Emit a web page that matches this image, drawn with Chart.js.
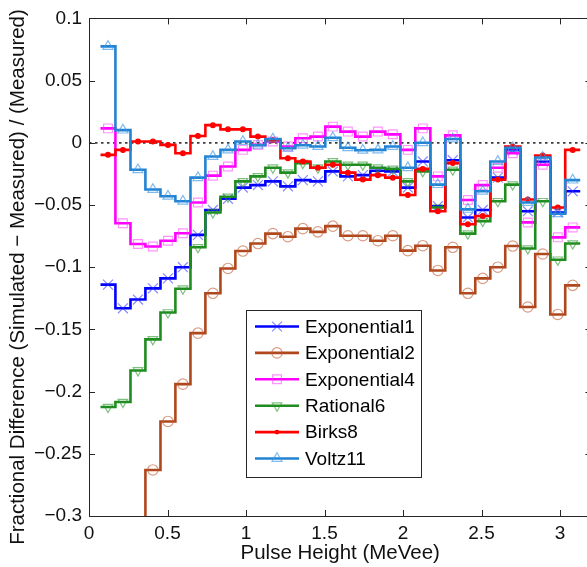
<!DOCTYPE html>
<html>
<head>
<meta charset="utf-8">
<script src="https://cdn.jsdelivr.net/npm/chart.js@4.4.1/dist/chart.umd.min.js"></script>
<style>
html,body{margin:0;padding:0;overflow:hidden;background:#fff;}
#wrap{width:600px;height:567px;}
</style>
</head>
<body>
<div id="wrap"><canvas id="c" width="600" height="567"></canvas></div>
<script>
// ---------- data ----------
const pulseHeight = [0.121,0.216,0.312,0.407,0.503,0.598,0.694,0.789,0.885,0.980,
  1.076,1.171,1.267,1.362,1.458,1.553,1.649,1.744,1.840,1.935,
  2.031,2.126,2.222,2.317,2.413,2.508,2.604,2.699,2.795,2.890,2.986,3.081];
const binWidth = 0.0955;

const exponential1 = [-0.114,-0.133,-0.126,-0.117,-0.109,-0.100,-0.074,-0.054,-0.045,-0.036,
  -0.034,-0.031,-0.035,-0.030,-0.031,-0.023,-0.027,-0.026,-0.0225,-0.023,
  -0.036,-0.015,-0.051,-0.014,-0.060,-0.054,-0.028,-0.006,-0.055,-0.015,-0.056,-0.039];
const exponential2 = [-0.36,-0.34,-0.32,-0.263,-0.224,-0.194,-0.153,-0.121,-0.101,-0.087,
  -0.081,-0.073,-0.0755,-0.069,-0.0716,-0.067,-0.0747,-0.0747,-0.0787,-0.0747,
  -0.0867,-0.0827,-0.1026,-0.084,-0.121,-0.109,-0.100,-0.083,-0.132,-0.0894,-0.138,-0.1146];
const exponential4 = [0.0116,-0.0647,-0.0814,-0.0833,-0.0787,-0.0727,-0.048,-0.0264,-0.019,-0.0057,
  -0.0017,0.001,-0.003,0.0036,0.005,0.013,0.009,0.005,0.009,0.0068,
  -0.0057,0.0116,-0.027,0.006,-0.046,-0.034,-0.020,-0.0084,-0.064,-0.0177,-0.076,-0.068];
const rational6 = [-0.2124,-0.2084,-0.183,-0.158,-0.1364,-0.1173,-0.084,-0.056,-0.0434,-0.031,
  -0.027,-0.020,-0.024,-0.0163,-0.020,-0.015,-0.0177,-0.0177,-0.020,-0.021,
  -0.031,-0.023,-0.052,-0.0217,-0.073,-0.063,-0.047,-0.0336,-0.085,-0.047,-0.094,-0.081];
const birks8 = [-0.0097,-0.0057,0.001,0.001,-0.0017,-0.0084,0.0055,0.0142,0.0108,0.0108,
  0.005,0.002,-0.0124,-0.015,-0.020,-0.0177,-0.024,-0.0296,-0.026,-0.028,
  -0.042,-0.021,-0.055,-0.0163,-0.0655,-0.0588,-0.0296,-0.003,-0.0456,-0.0102,-0.052,-0.0057];
const voltz11 = [0.0775,0.0102,-0.0217,-0.0376,-0.043,-0.047,-0.028,-0.011,-0.0057,0.001,
  -0.002,0.003,-0.0044,-0.002,-0.003,0.004,-0.004,-0.006,-0.0057,-0.003,
  -0.020,0.000,-0.0336,0.003,-0.0535,-0.039,-0.015,-0.004,-0.048,-0.0118,-0.057,-0.030];

const seriesNames = ['Exponential1','Exponential2','Exponential4','Rational6','Birks8','Voltz11'];
const seriesValues = [exponential1, exponential2, exponential4, rational6, birks8, voltz11];

const xTicks = [0,0.5,1,1.5,2,2.5,3];
const xTickLabels = ['0','0.5','1','1.5','2','2.5','3'];
const yTicks = [-0.3,-0.25,-0.2,-0.15,-0.1,-0.05,0,0.05,0.1];
const yTickLabels = ['\u22120.3','\u22120.25','\u22120.2','\u22120.15','\u22120.1','\u22120.05','0','0.05','0.1'];
const xTitle = 'Pulse Height (MeVee)';
const yTitle = 'Fractional Difference (Simulated \u2212 Measured) / (Measured)';

// ---------- styles ----------
const styles = [
  {line:'#0000ff', mark:'rgba(40,40,255,0.55)', shape:'crossRot', r:7, fill:false},
  {line:'#b0471c', mark:'rgba(190,90,50,0.6)', shape:'circle', r:5.2, fill:false},
  {line:'#ff00ff', mark:'rgba(255,60,255,0.55)', shape:'rect', r:6.2, fill:false},
  {line:'#1f8c1f', mark:'rgba(40,150,40,0.6)', shape:'triDown', r:5.5, fill:false},
  {line:'#ff0000', mark:'#ff0000', shape:'circle', r:2.4, fill:true},
  {line:'#2383d3', mark:'rgba(60,150,230,0.65)', shape:'triangle', r:5.8, fill:false}
];
const FONT = "'Liberation Sans', Arial, Helvetica, sans-serif";

function edgesOf(centers, w){
  const e = centers.map(c => c - w/2);
  e.push(centers[centers.length-1] + w/2);
  return e;
}
const edges = edgesOf(pulseHeight, binWidth);

let datasets = [];
seriesValues.forEach((vals, s) => {
  const st = styles[s];
  const stepData = edges.map((x, k) => ({x, y: vals[Math.min(k, vals.length-1)]}));
  datasets.push({
    label: seriesNames[s], data: stepData, stepped: 'before',
    borderColor: st.line, borderWidth: 2.6, pointRadius: 0, fill: false,
    borderJoinStyle: 'miter', borderCapStyle: 'butt'
  });
  const shape = st.shape === 'triDown' ? 'triangle' : st.shape;
  datasets.push({
    label: seriesNames[s] + ' markers',
    data: pulseHeight.map((x, i) => ({x, y: vals[i]})),
    showLine: false, pointStyle: shape, pointRotation: st.shape === 'triDown' ? 180 : 0,
    pointRadius: st.r, pointBorderColor: st.mark, pointBorderWidth: 1.2,
    pointBackgroundColor: st.fill ? st.mark : 'rgba(0,0,0,0)'
  });
});
datasets = datasets.reverse(); // first series drawn at bottom

function drawMarker(ctx, st, x, y){
  ctx.save();
  ctx.strokeStyle = st.mark; ctx.fillStyle = st.mark; ctx.lineWidth = 1.2;
  const r = st.r;
  ctx.beginPath();
  if (st.shape === 'circle') { ctx.arc(x, y, r, 0, Math.PI*2); }
  else if (st.shape === 'rect') { const h = r*Math.SQRT1_2; ctx.rect(x-h, y-h, 2*h, 2*h); }
  else if (st.shape === 'triangle' || st.shape === 'triDown') {
    const sgn = st.shape === 'triangle' ? 1 : -1;
    for (let k=0;k<3;k++){ const a = -Math.PI/2*sgn + k*2*Math.PI/3; const px = x + r*Math.cos(a), py = y + r*Math.sin(a); k? ctx.lineTo(px,py) : ctx.moveTo(px,py); }
    ctx.closePath();
  } else if (st.shape === 'crossRot') {
    const h = r*Math.SQRT1_2;
    ctx.moveTo(x-h,y-h); ctx.lineTo(x+h,y+h); ctx.moveTo(x+h,y-h); ctx.lineTo(x-h,y+h);
  }
  if (st.fill) ctx.fill(); else ctx.stroke();
  ctx.restore();
}

const framePlugin = {
  id: 'frame',
  beforeDatasetsDraw(chart){
    const {ctx, chartArea:a, scales:{y}} = chart;
    const y0 = y.getPixelForValue(0);
    ctx.save();
    ctx.strokeStyle = '#3a3a3a'; ctx.lineWidth = 1.8; ctx.setLineDash([2.5,3.5]);
    ctx.beginPath(); ctx.moveTo(a.left, y0); ctx.lineTo(a.right, y0); ctx.stroke();
    ctx.restore();
  },
  afterDatasetsDraw(chart){
    const {ctx, chartArea:a, scales:{x, y}} = chart;
    ctx.save();
    ctx.strokeStyle = '#262626'; ctx.lineWidth = 1;
    ctx.strokeRect(Math.round(a.left)+0.5, Math.round(a.top)+0.5, Math.round(a.right-a.left), Math.round(a.bottom-a.top));
    const tl = 6;
    ctx.beginPath();
    xTicks.forEach(v => { const px = Math.round(x.getPixelForValue(v))+0.5;
      ctx.moveTo(px, a.bottom); ctx.lineTo(px, a.bottom - tl);
      ctx.moveTo(px, a.top); ctx.lineTo(px, a.top + tl); });
    yTicks.forEach(v => { const py = Math.round(y.getPixelForValue(v))+0.5;
      ctx.moveTo(a.left, py); ctx.lineTo(a.left + tl, py);
      ctx.moveTo(a.right, py); ctx.lineTo(a.right - tl, py); });
    ctx.stroke();

    // y-axis title
    ctx.save();
    ctx.font = '20.5px ' + FONT; ctx.fillStyle = '#111';
    ctx.textAlign = 'center'; ctx.textBaseline = 'middle';
    ctx.translate(18, 277); ctx.rotate(-Math.PI/2);
    ctx.fillText(yTitle, 0, 0);
    ctx.restore();

    // legend
    const bx = 246.5, by = 310.5, bw = 175, bh = 167;
    ctx.fillStyle = '#fff'; ctx.fillRect(bx, by, bw, bh);
    ctx.strokeStyle = '#262626'; ctx.lineWidth = 1; ctx.strokeRect(bx, by, bw, bh);
    ctx.font = '19px ' + FONT; ctx.textBaseline = 'middle'; ctx.textAlign = 'left'; ctx.fillStyle = '#000';
    seriesNames.forEach((name, s) => {
      const st = styles[s]; const ly = 326.5 + s*26.4;
      ctx.strokeStyle = st.line; ctx.lineWidth = 2.6;
      ctx.beginPath(); ctx.moveTo(255, ly); ctx.lineTo(299, ly); ctx.stroke();
      drawMarker(ctx, st, 277, ly);
      ctx.fillStyle = '#000';
      ctx.fillText(name, 305, ly + 1);
    });
    ctx.restore();
  }
};

new Chart(document.getElementById('c'), {
  type: 'line',
  data: { datasets },
  options: {
    responsive: false, animation: false, devicePixelRatio: 1,
    layout: { padding: { left: 0, right: 8.6, top: 14, bottom: 0 } },
    plugins: { legend: { display: false }, tooltip: { enabled: false } },
    scales: {
      x: {
        type: 'linear', min: 0, max: 3.2,
        afterFit: s => { s.height = 51; },
        afterBuildTicks: s => { s.ticks = xTicks.map(v => ({value: v})); },
        ticks: { callback: (v, i) => xTickLabels[i], font: {family: FONT, size: 19}, color: '#111', padding: 6, maxRotation: 0, autoSkip: false },
        grid: { display: false, drawTicks: false }, border: { display: false },
        title: { display: true, text: xTitle, font: {family: FONT, size: 20.5}, color: '#111', padding: {top: 0, bottom: 1} }
      },
      y: {
        type: 'linear', min: -0.3, max: 0.1,
        afterFit: s => { s.width = 89; },
        afterBuildTicks: s => { s.ticks = yTicks.map(v => ({value: v})); },
        ticks: { callback: (v, i) => yTickLabels[i], font: {family: FONT, size: 19}, color: '#111', padding: 7, autoSkip: false },
        grid: { display: false, drawTicks: false }, border: { display: false },
        title: { display: false }
      }
    }
  },
  plugins: [framePlugin]
});
</script>
</body>
</html>
